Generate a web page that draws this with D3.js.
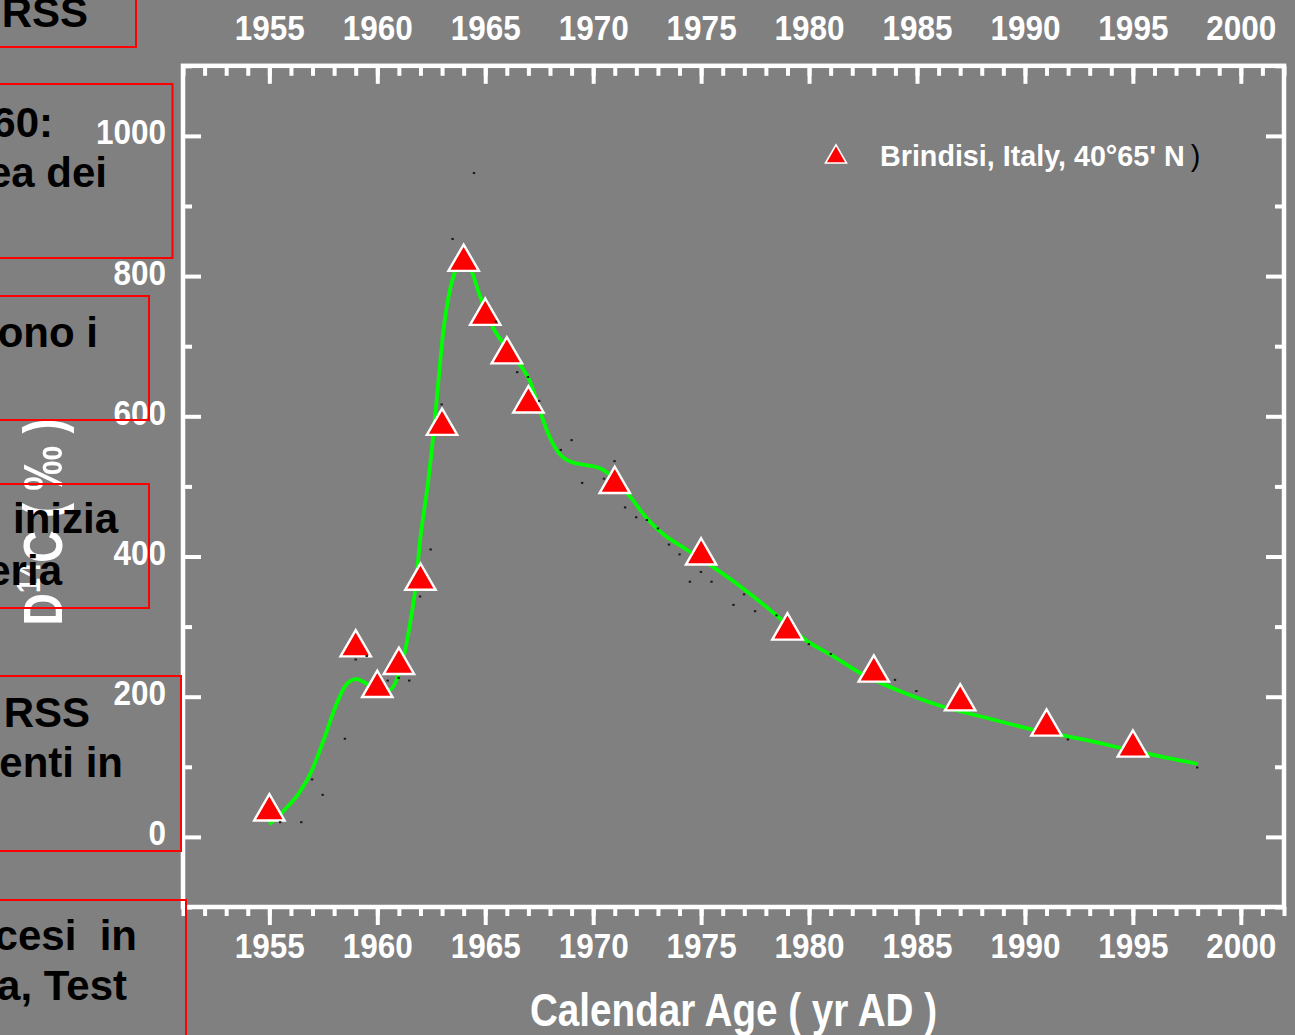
<!DOCTYPE html>
<html>
<head>
<meta charset="utf-8">
<script src="https://cdn.jsdelivr.net/npm/d3@7"></script>
<style>
  html, body { margin: 0; padding: 0; background: #808080; }
  svg { display: block; }
  text { font-family: "Liberation Sans", Arial, sans-serif; }
</style>
</head>
<body>
<svg id="chart" width="1295" height="1035"></svg>
<script>
// Brindisi Δ14C measurements (yr AD, per mil)
const sampleYears  = [1955, 1959, 1960, 1961, 1962, 1963, 1964, 1965, 1966, 1967, 1971, 1975, 1979, 1983, 1987, 1991, 1995];
const sampleD14C   = [36, 270, 212, 245, 365, 586, 820, 743, 688, 618, 503, 401, 294, 234, 193, 157, 127];

// Smoothed reference curve (yr AD, per mil)
const curveYears = [1955.0, 1955.65, 1956.34, 1956.96, 1957.5, 1958.04, 1958.58, 1959.04, 1959.43, 1959.8, 1960.2, 1960.6, 1960.97, 1961.28, 1961.51, 1961.75, 1961.98, 1962.36, 1962.6, 1962.83, 1963.06, 1963.29, 1963.6, 1963.85, 1964.1, 1964.37, 1964.75, 1965.37, 1965.99, 1966.6, 1967.07, 1967.53, 1967.99, 1968.45, 1969.07, 1969.54, 1970.31, 1970.77, 1971.7, 1972.47, 1973.24, 1974.32, 1975.7, 1976.79, 1977.87, 1978.8, 1979.88, 1981.11, 1982.19, 1984.2, 1986.06, 1988.21, 1990.37, 1992.69, 1995.0, 1998.01];
const curveD14C  = [18, 37, 61, 94, 137, 184, 218, 225, 220, 214, 208, 210, 230, 265, 303, 351, 422, 508, 574, 650, 722, 769, 807, 825, 822, 807, 772, 726, 698, 674, 650, 608, 570, 546, 534, 531, 526, 517, 486, 455, 432, 410, 382, 358, 332, 308, 280, 258, 237, 208, 187, 170, 153, 139, 123, 104];

// Individual monthly readings shown as small dots (yr AD, per mil)
const dotYears = [1955.5, 1956.48, 1956.98, 1957.47, 1958.5, 1959.0, 1959.51, 1960.48, 1960.99, 1961.48, 1961.98, 1962.47, 1962.98, 1963.49, 1964.48, 1965.5, 1966.48, 1966.98, 1967.5, 1968.5, 1969.0, 1969.49, 1970.5, 1970.99, 1971.48, 1971.99, 1972.49, 1973.0, 1973.51, 1974.0, 1974.48, 1974.99, 1975.48, 1976.5, 1976.99, 1977.5, 1978.49, 1979.99, 1981.0, 1983.98, 1984.97, 1991.99, 1997.98];
const dotD14C  = [21, 21, 82, 60, 140, 253, 258, 223, 227, 223, 343, 410, 617, 853, 947, 735, 663, 656, 622, 552, 566, 505, 511, 536, 470, 456, 452, 440, 417, 403, 364, 378, 364, 331, 346, 322, 316, 275, 261, 224, 208, 139, 99];

// Axis ticks
const majorYears = [1955, 1960, 1965, 1970, 1975, 1980, 1985, 1990, 1995, 2000];
const minorYears = d3.range(1951, 2003);
const majorD14C  = [0, 200, 400, 600, 800, 1000];
const minorD14C  = [-100, 100, 300, 500, 700, 900, 1100];

const legendLabel = "Brindisi, Italy, 40°65' N";

// Slide callout fragments: [text, right edge x, baseline y]
const calloutBoxes = [
  { box: [-10, -10, 136, 47],  lines: [["RSS", 88, 27]] },
  { box: [-10, 84, 172.5, 258], lines: [["60:", 53, 137], ["ea dei", 107, 187]] },
  { box: [-10, 296, 149, 420], lines: [["ono i", 98, 347]] },
  { box: [-10, 484, 149, 608], lines: [["inizia", 118, 533], ["eria", 62, 585]] },
  { box: [-10, 676, 181, 851], lines: [["RSS", 90, 727], ["enti in", 123, 777]] },
  { box: [-10, 900, 186, 1045], lines: [["cesi\u00a0\u00a0in", 137, 950], ["a, Test", 127, 1000]] }
];

const svg = d3.select("#chart");
const W = 1295, H = 1035;

svg.append("rect").attr("width", W).attr("height", H).attr("fill", "#808080");

const x = d3.scaleLinear().domain([1951, 2002]).range([183, 1284]);
const y = d3.scaleLinear().domain([-100, 1100]).range([907, 65.8]);

const plot = svg.append("g");

// smoothed curve
const curvePts = curveYears.map((yr, i) => [yr, curveD14C[i]]);
plot.append("path")
  .datum(curvePts)
  .attr("fill", "none")
  .attr("stroke", "#00ff00")
  .attr("stroke-width", 3.8)
  .attr("d", d3.line().x(d => x(d[0])).y(d => y(d[1])).curve(d3.curveMonotoneX));

// triangles
const tri = d3.symbol().type(d3.symbolTriangle).size(400);
plot.selectAll("path.sample")
  .data(sampleYears.map((yr, i) => [yr, sampleD14C[i]]))
  .join("path")
  .attr("class", "sample")
  .attr("transform", d => `translate(${x(d[0])},${y(d[1])})`)
  .attr("d", tri)
  .attr("fill", "#ff0000")
  .attr("stroke", "#ffffff")
  .attr("stroke-width", 2.4)
  .attr("stroke-linejoin", "miter");

// tiny dots
plot.selectAll("rect.dot")
  .data(dotYears.map((yr, i) => [yr, dotD14C[i]]))
  .join("rect")
  .attr("class", "dot")
  .attr("x", d => x(d[0]) - 1.2)
  .attr("y", d => y(d[1]) - 1)
  .attr("width", 2.4)
  .attr("height", 2)
  .attr("fill", "#1a1a1a");

// axes
const tickColor = "#ffffff";
function styleAxis(g) {
  g.select(".domain").remove();
  g.selectAll(".tick line").attr("stroke", tickColor).attr("stroke-width", 4);
}
function styleLabels(g, dx, by, anchor, size, sx) {
  g.selectAll(".tick text")
    .attr("x", null).attr("y", null).attr("dy", null)
    .attr("fill", "#ffffff")
    .attr("font-size", size)
    .attr("font-weight", "bold")
    .attr("text-anchor", anchor)
    .attr("transform", `translate(${dx},${by}) scale(${sx},1)`);
}

// bottom: outward ticks with labels
svg.append("g").attr("transform", `translate(0,${y(-100)})`)
  .call(d3.axisBottom(x).tickValues(minorYears).tickSize(9).tickFormat(""))
  .call(styleAxis);
svg.append("g").attr("transform", `translate(0,${y(-100)})`)
  .call(d3.axisBottom(x).tickValues(majorYears).tickSize(18).tickFormat(d3.format("d")))
  .call(styleAxis)
  .call(g => styleLabels(g, 0, 51, "middle", 35, 0.9));

// top: inward ticks with labels
svg.append("g").attr("transform", `translate(0,${y(1100)})`)
  .call(d3.axisTop(x).tickValues(minorYears).tickSize(-10).tickFormat(""))
  .call(styleAxis);
svg.append("g").attr("transform", `translate(0,${y(1100)})`)
  .call(d3.axisTop(x).tickValues(majorYears).tickSize(-18).tickFormat(d3.format("d")))
  .call(styleAxis)
  .call(g => styleLabels(g, 0, -26, "middle", 35, 0.9));

// left: inward ticks with labels
svg.append("g").attr("transform", `translate(${x(1951)},0)`)
  .call(d3.axisLeft(y).tickValues(minorD14C).tickSize(-9).tickFormat(""))
  .call(styleAxis);
svg.append("g").attr("transform", `translate(${x(1951)},0)`)
  .call(d3.axisLeft(y).tickValues(majorD14C).tickSize(-18).tickFormat(d3.format("d")))
  .call(styleAxis)
  .call(g => styleLabels(g, -17, 8, "end", 35, 0.9));

// right: inward ticks only
svg.append("g").attr("transform", `translate(${x(2002)},0)`)
  .call(d3.axisRight(y).tickValues(minorD14C).tickSize(-9).tickFormat(""))
  .call(styleAxis);
svg.append("g").attr("transform", `translate(${x(2002)},0)`)
  .call(d3.axisRight(y).tickValues(majorD14C).tickSize(-18).tickFormat(""))
  .call(styleAxis);

// frame
svg.append("rect")
  .attr("x", x(1951)).attr("y", y(1100))
  .attr("width", x(2002) - x(1951)).attr("height", y(-100) - y(1100))
  .attr("fill", "none").attr("stroke", "#ffffff").attr("stroke-width", 4.5);

// legend
svg.append("path")
  .attr("transform", "translate(836,157)")
  .attr("d", d3.symbol().type(d3.symbolTriangle).size(190))
  .attr("fill", "#ff0000").attr("stroke", "#ffffff").attr("stroke-width", 1.6);
const leg = svg.append("text")
  .attr("x", 880).attr("y", 166)
  .attr("font-size", 28.7).attr("font-weight", "bold").attr("fill", "#ffffff");
leg.append("tspan").text(legendLabel);
leg.append("tspan").attr("font-weight", "normal").attr("fill", "#000000").attr("dx", 6).text(")");

// y axis title
const yt = svg.append("text")
  .attr("transform", "translate(62,522) rotate(-90) scale(0.8,1)")
  .attr("text-anchor", "middle")
  .attr("font-size", 56).attr("font-weight", "bold").attr("fill", "#ffffff");
yt.append("tspan").text("D");
yt.append("tspan").attr("font-size", 34).attr("dy", -22).text("14");
yt.append("tspan").attr("dy", 22).text("C ( ‰ )");

// x axis title
svg.append("text")
  .attr("transform", `translate(${(x(1951) + x(2002)) / 2},1026) scale(0.84,1)`)
  .attr("text-anchor", "middle")
  .attr("font-size", 46).attr("font-weight", "bold").attr("fill", "#ffffff")
  .text("Calendar Age ( yr AD )");

// slide callouts
const cg = svg.append("g");
calloutBoxes.forEach(c => {
  const [x0, y0, x1, y1] = c.box;
  cg.append("rect")
    .attr("x", x0).attr("y", y0).attr("width", x1 - x0).attr("height", y1 - y0)
    .attr("fill", "none").attr("stroke", "#ff0000").attr("stroke-width", 2);
  c.lines.forEach(([t, rx, by]) => {
    cg.append("text")
      .attr("x", rx).attr("y", by)
      .attr("text-anchor", "end")
      .attr("font-size", 42).attr("font-weight", "bold").attr("fill", "#000000")
      .text(t);
  });
});
</script>
</body>
</html>
